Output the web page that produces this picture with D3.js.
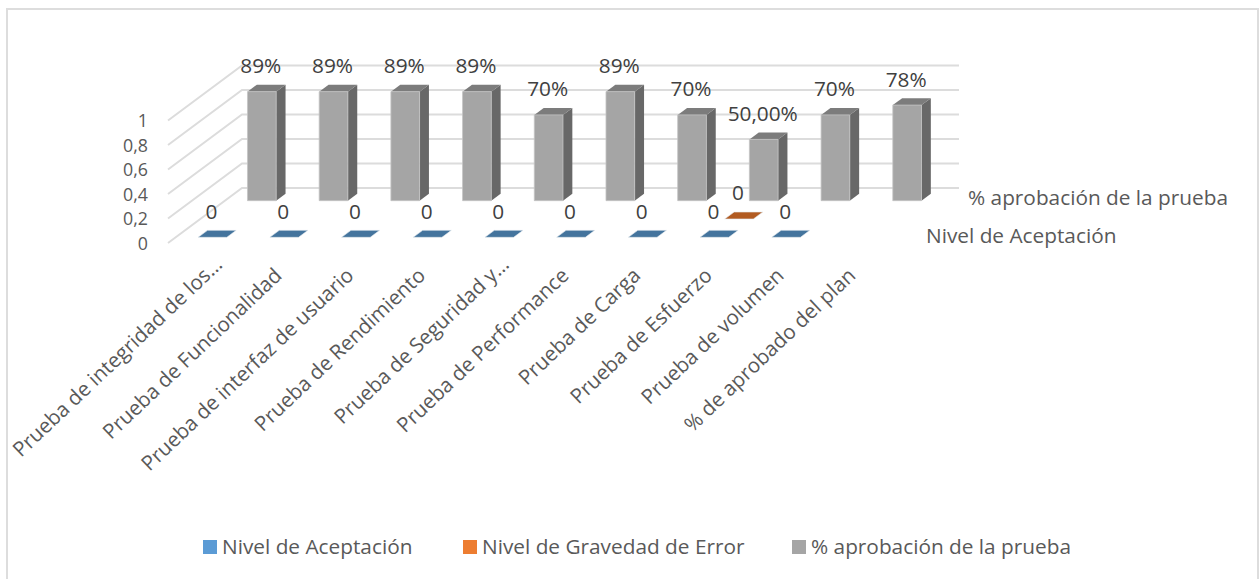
<!DOCTYPE html>
<html>
<head>
<meta charset="utf-8">
<style>
  html, body { margin: 0; background: #fff; }
  svg { display: block; }
  text { font-family: 'Open Sans', sans-serif; fill: #595959; }
</style>
</head>
<body>
<svg id="chart" width="1259" height="579"></svg>
<script src="https://cdn.jsdelivr.net/npm/d3@7"></script>
<script>
const categories = [
  'Prueba de integridad de los…',
  'Prueba de Funcionalidad',
  'Prueba de interfaz de usuario',
  'Prueba de Rendimiento',
  'Prueba de Seguridad y…',
  'Prueba de Performance',
  'Prueba de Carga',
  'Prueba de Esfuerzo',
  'Prueba de volumen',
  '% de aprobado del plan',
]
const seriesNames = ['Nivel de Aceptación', 'Nivel de Gravedad de Error', '% aprobación de la prueba']
const nivelAceptacion = [0, 0, 0, 0, 0, 0, 0, 0, 0, null]
const nivelGravedad = [null, null, null, null, null, null, null, 0, null, null]
const aprobacion = [0.89, 0.89, 0.89, 0.89, 0.7, 0.89, 0.7, 0.5, 0.7, 0.78]
const aprobacionLabels = ['89%', '89%', '89%', '89%', '70%', '89%', '70%', '50,00%', '70%', '78%']
const valueTicks = [0, 0.2, 0.4, 0.6, 0.8, 1]

const seriesColors = ['#5b9bd5', '#ed7d31', '#a5a5a5']
const topColors = ['#44749d', '#b25b21', '#7c7c7c']

const svg = d3.select('#chart')

const fontSize = 20.8
const tickFontSize = 17.8
const originX = 168
const originY = 243
const depthX = 74
const depthY = -55
const wallWidth = 717

const x = d3.scaleBand().domain(d3.range(categories.length)).range([1, wallWidth + 1]).paddingInner(0.6).paddingOuter(0.3)
const y = d3.scaleLinear().domain([0, 1]).range([0, -122.5])
const z = d3.scaleBand().domain(d3.range(seriesNames.length)).range([0, 1]).paddingInner(0.62).paddingOuter(0.31)

// 3d -> screen, very simple oblique projection
const project = (px, value, depth) => [
  originX + px + depth * depthX,
  originY + y(value) + depth * depthY,
]
const poly = points => points.map(p => p.join(',')).join(' ')

// frame runs past the bottom of the picture
svg.append('rect')
  .attr('x', 7).attr('y', 9).attr('width', 1251).attr('height', 600)
  .attr('fill', '#fff').attr('stroke', '#dddddd').attr('stroke-width', 2)

// walls
svg.append('g').selectAll('polyline')
  .data(valueTicks)
  .join('polyline')
  .attr('fill', 'none')
  .attr('stroke', '#dcdcdc')
  .attr('stroke-width', 2)
  .attr('points', d => poly([project(0, d, 0), project(0, d, 1), project(wallWidth, d, 1)]))

// value axis
const axis = svg.append('g')
  .attr('transform', `translate(${originX - 20},${originY})`)
  .call(d3.axisLeft(y).tickValues(valueTicks).tickSize(0).tickPadding(0)
    .tickFormat(d => String(d).replace('.', ',')))
axis.select('.domain').remove()
axis.selectAll('text')
  .attr('font-size', tickFontSize)
  .attr('font-family', "'Open Sans', sans-serif")
  .attr('fill', '#595959')
  .attr('dy', '0.35em')

const series = [nivelAceptacion, nivelGravedad, aprobacion]

series.forEach((values, s) => {
  const d0 = z(s)
  const d1 = z(s) + z.bandwidth()
  const w = x.bandwidth()
  const bars = svg.append('g').selectAll('g')
    .data(values.map((v, i) => ({ v, i })).filter(d => d.v !== null))
    .join('g')

  bars.filter(d => d.v > 0).append('polygon')
    .attr('fill', '#686868')
    .attr('points', d => {
      const l = x(d.i) + w
      return poly([project(l, 0, d0), project(l, 0, d1), project(l, d.v, d1), project(l, d.v, d0)])
    })

  bars.append('polygon')
    .attr('fill', topColors[s])
    .attr('stroke', d => d.v > 0 ? 'none' : '#e3e9ef')
    .attr('stroke-width', 0.6)
    .attr('points', d => {
      const l = x(d.i)
      return poly([project(l, d.v, d0), project(l + w, d.v, d0), project(l + w, d.v, d1), project(l, d.v, d1)])
    })

  bars.filter(d => d.v > 0).append('polygon')
    .attr('fill', seriesColors[s])
    .attr('stroke', '#c4c4c4')
    .attr('stroke-width', 0.8)
    .attr('points', d => {
      const l = x(d.i)
      return poly([project(l, 0, d0), project(l + w, 0, d0), project(l + w, d.v, d0), project(l, d.v, d0)])
    })

  bars.append('text')
    .attr('text-anchor', 'middle')
    .attr('font-size', fontSize)
    .style('fill', '#404040')
    .attr('x', d => project(x(d.i) + w / 2, d.v, d0)[0] - 1)
    .attr('y', d => project(x(d.i) + w / 2, d.v, d0)[1] - 18.5)
    .text(d => s === 2 ? aprobacionLabels[d.i] : d.v)
})

// series axis labels
const seriesLabels = [
  { name: seriesNames[0], x: 926, y: 243 },
  { name: seriesNames[2], x: 968, y: 205 },
]
svg.append('g').selectAll('text')
  .data(seriesLabels)
  .join('text')
  .attr('x', d => d.x)
  .attr('y', d => d.y)
  .attr('font-size', fontSize)
  .text(d => d.name)

// category labels, truncated ones end a bit further up the slope
svg.append('g').selectAll('text')
  .data(categories)
  .join('text')
  .attr('text-anchor', 'end')
  .attr('font-size', 20.5)
  .attr('transform', (d, i) => {
    const extra = d.endsWith('…') ? 1 : 0
    return `translate(${x(i) + 189 + extra * 12},${277 - extra * 11}) rotate(-43.5)`
  })
  .text(d => d)

// legend
const legendX = [203, 463, 792]
const legend = svg.append('g').selectAll('g')
  .data(seriesNames)
  .join('g')
  .attr('transform', (d, i) => `translate(${legendX[i]},540)`)
legend.append('rect')
  .attr('width', 14).attr('height', 14)
  .attr('fill', (d, i) => seriesColors[i])
legend.append('text')
  .attr('x', 19).attr('y', 13.5)
  .attr('font-size', fontSize)
  .text(d => d)
</script>
</body>
</html>
